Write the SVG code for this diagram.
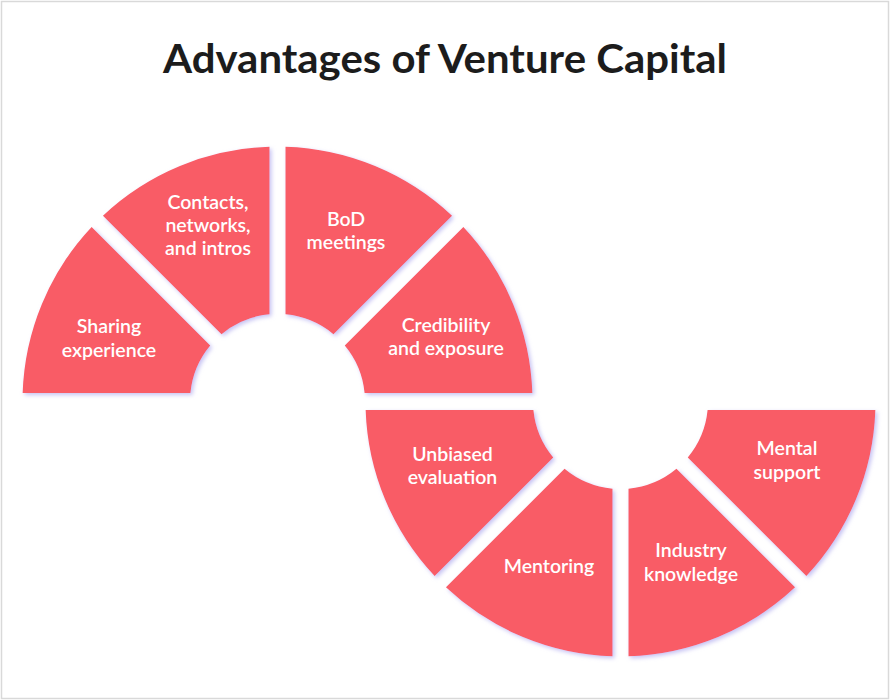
<svg xmlns="http://www.w3.org/2000/svg" width="891" height="700" viewBox="0 0 891 700">
  <defs>
    <filter id="glow" x="-10%" y="-10%" width="120%" height="120%">
      <feDropShadow dx="2" dy="2" stdDeviation="2" flood-color="#b3aef0" flood-opacity="0.75"/>
    </filter>
  </defs>
  <style>
    .seg { fill: #f95c66; filter: url(#glow); }
    .lbl { font-family: Lato, "Liberation Sans", sans-serif; font-weight: 600; font-size: 19.5px; fill: #ffffff; text-anchor: middle; }
    .title { font-family: Lato, "Liberation Sans", sans-serif; font-weight: 700; font-size: 40px; fill: #1c1c1c; text-anchor: middle; }
  </style>
  <rect x="0" y="0" width="891" height="700" fill="#ffffff"/>
  <rect x="1.5" y="1.5" width="887" height="697" fill="none" stroke="#d9d9d9" stroke-width="1.5"/>
  <text class="title" x="445" y="73" textLength="564" lengthAdjust="spacingAndGlyphs">Advantages of Venture Capital</text>

  <g id="connectors"/>

  <g id="sharing-experience">
    <path class="seg" d="M210.23,345.54 L91.63,226.94 A255,255 0 0 0 22.64,393 L190.41,393 A87.5,87.5 0 0 1 210.23,345.54 Z"/>
    <text class="lbl" x="109" y="333">Sharing</text>
    <text class="lbl" x="109" y="357">experience</text>
  </g>
  <g id="contacts-networks-intros">
    <path class="seg" d="M269.5,314.37 L269.5,146.63 A255,255 0 0 0 102.94,215.63 L221.54,334.23 A87.5,87.5 0 0 1 269.5,314.37 Z"/>
    <text class="lbl" x="208" y="209">Contacts,</text>
    <text class="lbl" x="208" y="232">networks,</text>
    <text class="lbl" x="208" y="255">and intros</text>
  </g>
  <g id="bod-meetings">
    <path class="seg" d="M333.46,334.23 L452.06,215.63 A255,255 0 0 0 285.5,146.63 L285.5,314.37 A87.5,87.5 0 0 1 333.46,334.23 Z"/>
    <text class="lbl" x="346" y="225.5">BoD</text>
    <text class="lbl" x="346" y="248.5">meetings</text>
  </g>
  <g id="credibility-exposure">
    <path class="seg" d="M364.59,393 L532.36,393 A255,255 0 0 0 463.37,226.94 L344.77,345.54 A87.5,87.5 0 0 1 364.59,393 Z"/>
    <text class="lbl" x="446" y="332">Credibility</text>
    <text class="lbl" x="446" y="355">and exposure</text>
  </g>
  <g id="unbiased-evaluation">
    <path class="seg" d="M434.63,576.06 A255,255 0 0 1 365.64,410 L533.41,410 A87.5,87.5 0 0 0 553.23,457.46 Z"/>
    <text class="lbl" x="452.5" y="461">Unbiased</text>
    <text class="lbl" x="452.5" y="484">evaluation</text>
  </g>
  <g id="mentoring">
    <path class="seg" d="M612.5,656.37 A255,255 0 0 1 445.94,587.37 L564.54,468.77 A87.5,87.5 0 0 0 612.5,488.63 Z"/>
    <text class="lbl" x="549" y="573">Mentoring</text>
  </g>
  <g id="industry-knowledge">
    <path class="seg" d="M628.5,656.37 A255,255 0 0 0 795.06,587.37 L676.46,468.77 A87.5,87.5 0 0 1 628.5,488.63 Z"/>
    <text class="lbl" x="691" y="557">Industry</text>
    <text class="lbl" x="691" y="581">knowledge</text>
  </g>
  <g id="mental-support">
    <path class="seg" d="M707.59,410 L875.36,410 A255,255 0 0 1 806.37,576.06 L687.77,457.46 A87.5,87.5 0 0 0 707.59,410 Z"/>
    <text class="lbl" x="787" y="455">Mental</text>
    <text class="lbl" x="787" y="478.5">support</text>
  </g>
</svg>
